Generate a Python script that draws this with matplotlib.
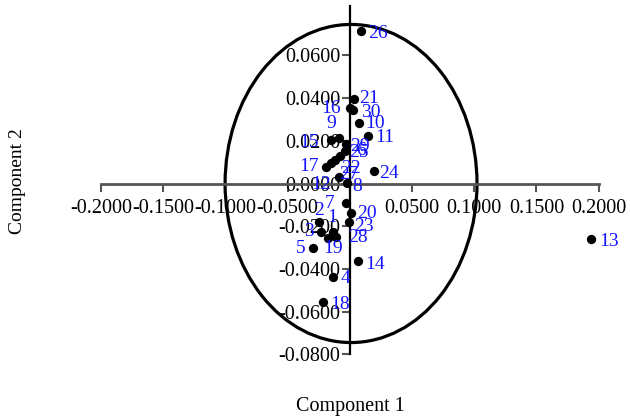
import matplotlib
matplotlib.use("Agg")
import matplotlib.pyplot as plt
from matplotlib.patches import Ellipse

plt.rcParams['font.family'] = ['Liberation Serif', 'DejaVu Serif']
plt.rcParams['axes.unicode_minus'] = False

# ---- data ----
ids = [26, 21, 16, 30, 10, 11, 9, 15, 29, 6, 25, 27, 22, 17, 12, 8, 24,
       7, 20, 23, 2, 1, 3, 28, 19, 5, 4, 14, 18, 13]
comp1 = [0.0090, 0.0036, 0.0004, 0.0028, 0.0071, 0.0146, -0.0084, -0.0151,
         -0.0030, -0.0036, -0.0076, -0.0116, -0.0148, -0.0191, -0.0084, -0.0020,
         0.0191, -0.0030, 0.0010, -0.0010, -0.0245, -0.0138, -0.0231, -0.0111,
         -0.0178, -0.0298, -0.0138, 0.0063, -0.0218, 0.1939]
comp2 = [0.0716, 0.0394, 0.0352, 0.0344, 0.0282, 0.0222, 0.0215, 0.0204,
         0.0184, 0.0150, 0.0129, 0.0112, 0.0098, 0.0079, 0.0032, 0.0001,
         0.0060, -0.0093, -0.0137, -0.0182, -0.0179, -0.0226, -0.0226, -0.0249,
         -0.0257, -0.0304, -0.0437, -0.0362, -0.0554, -0.0261]
x_ticks = [-0.20, -0.15, -0.10, -0.05, 0.0, 0.05, 0.10, 0.15, 0.20]
x_tick_labels = ['-0.2000', '-0.1500', '-0.1000', '-0.0500', '',
                 '0.0500', '0.1000', '0.1500', '0.2000']
y_ticks = [-0.08, -0.06, -0.04, -0.02, 0.0, 0.02, 0.04, 0.06]
y_tick_labels = ['-0.0800', '-0.0600', '-0.0400', '-0.0200', '0.0000',
                 '0.0200', '0.0400', '0.0600']
ellipse_center = (0.001, 0.0)
ellipse_size = (0.2025, 0.149)

# ---- label layout (pixel offsets, y downwards) ----
lab_layout = {
    26: ('left', 7, 3), 21: ('left', 5, -1), 16: ('right', -9, 0),
    30: ('left', 8, 2), 10: ('left', 7, 0), 11: ('left', 7, 1),
    9: ('right', -3, -14), 15: ('right', -12, 3), 29: ('left', 4, 2),
    6: ('left', 11, -1), 25: ('left', 9, -3), 27: ('left', 4, 15),
    22: ('left', 10, 6), 17: ('right', -7, 0), 12: ('right', -8, 8),
    8: ('left', 5, 3), 24: ('left', 6, 3), 7: ('right', -12, 0),
    20: ('left', 6, 1), 23: ('left', 6, 4), 2: ('center', 0, -11),
    1: ('center', 0, -14), 3: ('right', -7, 0), 28: ('left', 12, 1),
    19: ('center', 5, 10), 5: ('right', -7, 0), 4: ('left', 8, 2),
    14: ('left', 8, 4), 18: ('left', 8, 3), 13: ('left', 8, 2),
}

W, H = 630, 417
fig = plt.figure(figsize=(W / 100, H / 100), dpi=100)
left_px, right_px = 101, 598.6
top_px, bot_px = 6.3, 354.3
ax = fig.add_axes([left_px / W, 1 - bot_px / H,
                   (right_px - left_px) / W, (bot_px - top_px) / H])
ax.set_xlim(-0.2, 0.2)
ax.set_ylim(-0.08, 0.083)
ax.patch.set_alpha(0)

for s in ['top', 'right']:
    ax.spines[s].set_visible(False)
ax.spines['left'].set_position(('data', 0))
ax.spines['bottom'].set_position(('data', 0))
ax.spines['left'].set_color('black')
ax.spines['left'].set_linewidth(1.6)
ax.spines['bottom'].set_color('#555555')
ax.spines['bottom'].set_linewidth(2.0)

ax.set_xticks(x_ticks)
ax.set_xticklabels(x_tick_labels)
ax.set_yticks(y_ticks)
ax.set_yticklabels(y_tick_labels)
ax.tick_params(axis='x', direction='out', length=6, width=1.5, color='#555555',
               pad=5, labelsize=14.5)
ax.tick_params(axis='y', direction='out', length=6, width=1.5, color='#555555',
               pad=1, labelsize=14.5)

ax.add_patch(Ellipse(ellipse_center, ellipse_size[0], ellipse_size[1],
                     fill=False, lw=2.3, edgecolor='black', zorder=2))

ax.scatter(comp1, comp2, s=45, color='black', zorder=3, linewidths=0)

for i, x, y in zip(ids, comp1, comp2):
    ha, dx, dy = lab_layout[i]
    ax.annotate(str(i), (x, y), xytext=(dx, -dy), textcoords='offset pixels',
                ha=ha, va='center', color='#1414ff', fontsize=14, zorder=4)

fig.text(350 / W, 1 - 406 / H, 'Component 1', ha='center', va='center',
         fontsize=14.5)
fig.text(18 / W, 1 - 181 / H, 'Component 2', ha='center', va='center',
         rotation=90, fontsize=14)

fig.savefig('out.png', dpi=100)
